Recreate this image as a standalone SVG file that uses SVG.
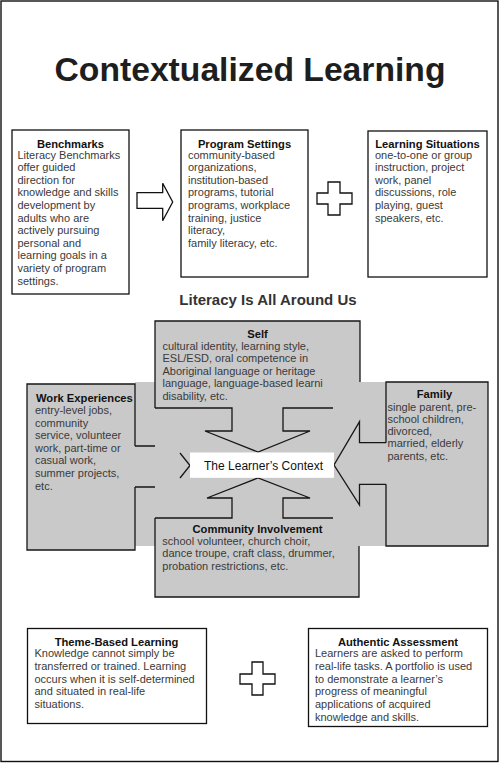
<svg xmlns="http://www.w3.org/2000/svg" width="500" height="763" viewBox="0 0 500 763">
<style>
.box{fill:#fff;stroke:#111;stroke-width:1.3}
.gr{fill:#c9c9c9}
.ol{fill:none;stroke:#161616;stroke-width:1.3;stroke-linejoin:miter}
.t{font-family:"Liberation Sans",Arial,sans-serif;font-size:11px;fill:#3a3a3a}
.h{font-family:"Liberation Sans",Arial,sans-serif;font-size:11.2px;font-weight:bold;fill:#111}
.m{text-anchor:middle}
</style>
<rect x="1" y="1" width="497" height="760.5" fill="#fff" stroke="#111" stroke-width="1.4"/>
<text x="250" y="81" class="m" font-family="'Liberation Sans',Arial,sans-serif" font-size="33" font-weight="bold" fill="#1e1e1e" textLength="391" lengthAdjust="spacingAndGlyphs">Contextualized Learning</text>

<g id="benchmarks">
<rect class="box" x="12" y="130" width="117" height="164"/>
<text class="h m" x="70.5" y="148">Benchmarks</text>
<text class="t"><tspan x="17.5" y="158.5">Literacy Benchmarks</tspan><tspan x="17.5" y="171.1">offer guided</tspan><tspan x="17.5" y="183.7">direction for</tspan><tspan x="17.5" y="196.3">knowledge and skills</tspan><tspan x="17.5" y="208.9">development by</tspan><tspan x="17.5" y="221.5">adults who are</tspan><tspan x="17.5" y="234.1">actively pursuing</tspan><tspan x="17.5" y="246.7">personal and</tspan><tspan x="17.5" y="259.3">learning goals in a</tspan><tspan x="17.5" y="271.9">variety of program</tspan><tspan x="17.5" y="284.5">settings.</tspan></text>
</g>

<g id="program-settings">
<rect class="box" x="181" y="130" width="127" height="147"/>
<text class="h m" x="244.5" y="148">Program Settings</text>
<text class="t"><tspan x="188" y="158.5">community-based</tspan><tspan x="188" y="171.1">organizations,</tspan><tspan x="188" y="183.7">institution-based</tspan><tspan x="188" y="196.3">programs, tutorial</tspan><tspan x="188" y="208.9">programs, workplace</tspan><tspan x="188" y="221.5">training, justice</tspan><tspan x="188" y="234.1">literacy,</tspan><tspan x="188" y="246.7">family literacy, etc.</tspan></text>
</g>

<g id="learning-situations">
<rect class="box" x="368" y="131" width="119" height="146"/>
<text class="h m" x="427.5" y="148">Learning Situations</text>
<text class="t"><tspan x="375" y="158.5">one-to-one or group</tspan><tspan x="375" y="171.1">instruction, project</tspan><tspan x="375" y="183.7">work, panel</tspan><tspan x="375" y="196.3">discussions, role</tspan><tspan x="375" y="208.9">playing, guest</tspan><tspan x="375" y="221.5">speakers, etc.</tspan></text>
</g>

<g id="plus-top">
<path class="box" d="M328,182 H340 V193 H352 V204 H340 V215 H328 V204 H317 V193 H328 Z"/>
</g>

<text x="268" y="305" class="m" font-family="'Liberation Sans',Arial,sans-serif" font-size="15" font-weight="bold" fill="#333">Literacy Is All Around Us</text>

<g id="context-background">
<rect class="gr" x="135" y="382" width="251" height="164"/>
</g>

<g id="self">
<rect class="gr" x="155" y="321" width="205" height="87"/>
<path class="ol" d="M155,408 V321 H360 V382"/>
<text class="h m" x="257.5" y="337.7">Self</text>
<text class="t"><tspan x="162.5" y="349.5">cultural identity, learning style,</tspan><tspan x="162.5" y="362.1">ESL/ESD, oral competence in</tspan><tspan x="162.5" y="374.7">Aboriginal language or heritage</tspan><tspan x="162.5" y="387.3">language, language-based learni</tspan><tspan x="162.5" y="399.9">disability, etc.</tspan></text>
</g>

<g id="work-experiences">
<rect class="gr" x="27" y="384" width="108" height="166"/>
<path class="ol" d="M135,446 V384 H27 V550 H135 V487"/>
<text class="h" x="36" y="402">Work Experiences</text>
<text class="t"><tspan x="35" y="414">entry-level jobs,</tspan><tspan x="35" y="426.6">community</tspan><tspan x="35" y="439.2">service, volunteer</tspan><tspan x="35" y="451.8">work, part-time or</tspan><tspan x="35" y="464.4">casual work,</tspan><tspan x="35" y="477">summer projects,</tspan><tspan x="35" y="489.6">etc.</tspan></text>
</g>

<g id="family">
<rect class="gr" x="386" y="382" width="102" height="164"/>
<path class="ol" d="M386,442.7 V382 H488 V546 H386 V484.3"/>
<text class="h m" x="434.5" y="398.3">Family</text>
<text class="t"><tspan x="387.5" y="410.5">single parent, pre-</tspan><tspan x="387.5" y="422.8">school children,</tspan><tspan x="387.5" y="435.1">divorced,</tspan><tspan x="387.5" y="447.4">married,  elderly</tspan><tspan x="387.5" y="459.7">parents, etc.</tspan></text>
</g>

<g id="community-involvement">
<rect class="gr" x="155" y="518" width="204" height="79"/>
<path class="ol" d="M155,518 V597 H359 V546"/>
<text class="h m" x="257.5" y="532.7">Community Involvement</text>
<text class="t"><tspan x="162.3" y="544.5">school volunteer, church choir,</tspan><tspan x="162.3" y="557.2">dance troupe,  craft class, drummer,</tspan><tspan x="162.3" y="569.9">probation restrictions, etc.</tspan></text>
</g>

<g id="connectors">
<path class="box" d="M137,192.7 H162.7 V183.3 L172.7,202 L162.7,220.7 V208.3 H137 Z"/>
<path class="ol" d="M155,408 H232 V431 H205 L258,452 L310,431 H283 V408 H333"/>
<path class="ol" d="M155,518 H232 V498 H207 L258,478 L310,498 H283 V518 H333"/>
<path class="ol" d="M135,446 H155 M135,487 H155 M180,453 L190,465.5 L180,478"/>
<path class="ol" d="M386,442.7 H359.5 V421.7 L334,465 L359.5,505 V484.3 H386"/>
</g>

<g id="learners-context">
<rect x="190" y="452.5" width="144" height="25.3" fill="#fff"/>
<text x="263.5" y="470" class="m" font-family="'Liberation Sans',Arial,sans-serif" font-size="12" fill="#111">The Learner’s Context</text>
</g>

<g id="theme-based-learning">
<rect class="box" x="27.5" y="628.5" width="179" height="95"/>
<text class="h m" x="116.5" y="646">Theme-Based Learning</text>
<text class="t"><tspan x="34.5" y="657">Knowledge cannot simply be</tspan><tspan x="34.5" y="669.8">transferred or trained. Learning</tspan><tspan x="34.5" y="682.6">occurs when it is self-determined</tspan><tspan x="34.5" y="695.4">and situated in real-life</tspan><tspan x="34.5" y="708.2">situations.</tspan></text>
</g>

<g id="plus-bottom">
<path class="box" d="M252,662 H263 V674 H275 V684 H263 V695 H252 V684 H240 V674 H252 Z"/>
</g>

<g id="authentic-assessment">
<rect class="box" x="308.5" y="628.5" width="179" height="98"/>
<text class="h m" x="398" y="646">Authentic Assessment</text>
<text class="t"><tspan x="315" y="657">Learners are asked to perform</tspan><tspan x="315" y="669.8">real-life tasks. A portfolio is used</tspan><tspan x="315" y="682.6">to demonstrate a learner’s</tspan><tspan x="315" y="695.4">progress of meaningful</tspan><tspan x="315" y="708.2">applications of acquired</tspan><tspan x="315" y="721">knowledge and skills.</tspan></text>
</g>
</svg>
